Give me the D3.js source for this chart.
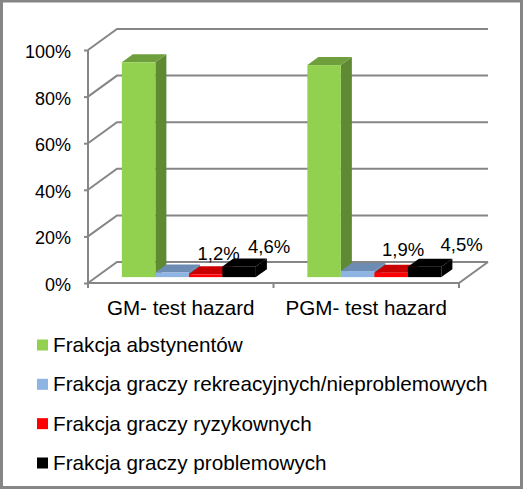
<!DOCTYPE html>
<html>
<head>
<meta charset="utf-8">
<script src="https://cdn.jsdelivr.net/npm/d3@7"></script>
<style>
  html, body { margin: 0; padding: 0; background: #fff; }
  svg { display: block; }
  text { font-family: "Liberation Sans", Arial, sans-serif; fill: #000; }
</style>
</head>
<body>
<div id="chart"></div>
<script>
const categories = ["GM- test hazard", "PGM- test hazard"]
const seriesNames = [
  "Frakcja abstynentów",
  "Frakcja graczy rekreacyjnych/nieproblemowych",
  "Frakcja graczy ryzykownych",
  "Frakcja graczy problemowych"
]
const abstinent = [92.2, 91]
const recreational = [2.0, 2.6]
const risky = [1.2, 1.9]
const problem = [4.6, 4.5]
const seriesValues = [abstinent, recreational, risky, problem]
const yTicks = [0, 20, 40, 60, 80, 100]

const frontColors = ["#92d050", "#8eb4e3", "#ff0000", "#000000"]
const topColors = ["#6f9e3d", "#6d8cb3", "#c80000", "#000000"]
const sideColors = ["#5f8a33", "#5f7a9c", "#a80000", "#000000"]

const width = 523
const height = 489
const grey = "#868686"

// 3d box of the plot, depth goes up and to the right
const depthX = 29
const depthY = -21
const barDepthStart = 0.28
const barDepthEnd = 0.66

const svg = d3.select("#chart").append("svg")
  .attr("width", width)
  .attr("height", height)

svg.append("rect")
  .attr("x", 1.5)
  .attr("y", 1)
  .attr("width", width - 3)
  .attr("height", height - 2.5)
  .attr("fill", "#fff")
  .attr("stroke", grey)
  .attr("stroke-width", 3)

const x = d3.scaleBand().domain(d3.range(categories.length)).range([88, 459])
const y = d3.scaleLinear().domain([0, 100]).range([283, 50])

const inner = d3.scaleBand()
  .domain(d3.range(seriesNames.length))
  .range([0, x.bandwidth()])
  .paddingOuter(0.768)
  .paddingInner(0)

const walls = svg.append("g")
  .attr("stroke", grey)
  .attr("stroke-width", 2)
  .attr("fill", "none")

// gridlines on back wall and left wall
yTicks.forEach((t) => {
  walls.append("path")
    .attr("d", d3.line()([
      [x.range()[0], y(t)],
      [x.range()[0] + depthX, y(t) + depthY],
      [x.range()[1] + depthX, y(t) + depthY]
    ]))
})

// floor front edge and right edge
walls.append("path")
  .attr("d", d3.line()([
    [x.range()[0], y(0)],
    [x.range()[1], y(0)],
    [x.range()[1] + depthX, y(0) + depthY]
  ]))

const yAxis = d3.axisLeft(y)
  .tickValues(yTicks)
  .tickFormat((d) => d + "%")
  .tickSize(4)
  .tickPadding(13)

const yAxisG = svg.append("g")
  .attr("transform", `translate(${x.range()[0]},0)`)
  .call(yAxis)

yAxisG.selectAll("line, path").attr("stroke", grey).attr("stroke-width", 2)
yAxisG.select(".domain").attr("d", `M0,${y(100)}V${y(0)}`)
yAxisG.selectAll("text")
  .attr("dy", "0.42em")
  .attr("font-size", 18)
  .attr("font-family", '"Liberation Sans", Arial, sans-serif')
  .attr("fill", "#000")

// category separators under the floor
const catTicks = d3.range(categories.length).map((i) => x(i)).concat(x.range()[1])
svg.selectAll(".catTick")
  .data(catTicks)
  .join("line")
  .attr("class", "catTick")
  .attr("x1", (d) => d)
  .attr("x2", (d) => d)
  .attr("y1", y(0))
  .attr("y2", y(0) + 5)
  .attr("stroke", grey)
  .attr("stroke-width", 2)

svg.selectAll(".catLabel")
  .data(categories)
  .join("text")
  .attr("class", "catLabel")
  .attr("x", (d, i) => x(i) + x.bandwidth() / 2)
  .attr("y", 315)
  .attr("text-anchor", "middle")
  .attr("font-size", 20.6)
  .text((d) => d)

const bars = svg.append("g")
const line = d3.line()

categories.forEach((cat, c) => {
  seriesValues.forEach((values, s) => {
    const x0 = x(c) + inner(s) + depthX * barDepthStart
    const x1 = x0 + inner.bandwidth()
    const yBase = y(0) + depthY * barDepthStart
    const yTop = y(values[c]) + depthY * barDepthStart
    const dx = depthX * (barDepthEnd - barDepthStart)
    const dy = depthY * (barDepthEnd - barDepthStart)

    bars.append("path")
      .attr("fill", sideColors[s])
      .attr("d", line([[x1, yBase], [x1 + dx, yBase + dy], [x1 + dx, yTop + dy], [x1, yTop]]) + "Z")
    bars.append("path")
      .attr("fill", topColors[s])
      .attr("d", line([[x0, yTop], [x0 + dx, yTop + dy], [x1 + dx, yTop + dy], [x1, yTop]]) + "Z")
    bars.append("rect")
      .attr("fill", frontColors[s])
      .attr("x", x0)
      .attr("y", yTop)
      .attr("width", x1 - x0)
      .attr("height", yBase - yTop)
  })
})

// data labels were moved by hand in the original, so they carry their own nudge
const labelled = [2, 3]
const labelNudgeX = [[13, 30], [12, 37]]
const labelNudgeY = [[-14, -13], [-16.5, -15.5]]

categories.forEach((cat, c) => {
  labelled.forEach((s, k) => {
    const v = seriesValues[s][c]
    svg.append("text")
      .attr("x", x(c) + inner(s) + inner.bandwidth() / 2 + depthX * barDepthStart + labelNudgeX[c][k])
      .attr("y", y(v) + depthY * barDepthStart + labelNudgeY[c][k])
      .attr("text-anchor", "middle")
      .attr("font-size", 18.5)
      .text(d3.format(".1f")(v).replace(".", ",") + "%")
  })
})

// legend
const legendY = d3.scalePoint().domain(d3.range(seriesNames.length)).range([345, 463])

const legend = svg.selectAll(".keyDiv")
  .data(seriesNames)
  .join("g")
  .attr("class", "keyDiv")
  .attr("transform", (d, i) => `translate(37,${legendY(i)})`)

legend.append("rect")
  .attr("x", 0)
  .attr("y", -5.5)
  .attr("width", 11)
  .attr("height", 11)
  .attr("fill", (d, i) => frontColors[i])

legend.append("text")
  .attr("x", 16)
  .attr("y", 7)
  .attr("font-size", 20.7)
  .text((d) => d)
</script>
</body>
</html>
